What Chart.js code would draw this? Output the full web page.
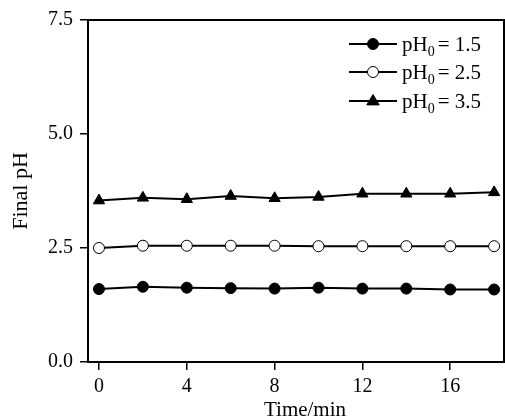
<!DOCTYPE html>
<html><head><meta charset="utf-8">
<script src="https://cdn.jsdelivr.net/npm/chart.js@4/dist/chart.umd.min.js"></script>
<style>html,body{margin:0;padding:0;background:#fff}#wrap{width:505px;height:419px}</style>
</head><body><div id="wrap"><canvas id="c" width="505" height="419"></canvas></div>
<script>
const times = [0, 2, 4, 6, 8, 10, 12, 14, 16, 18];
const ph15 = [1.60, 1.65, 1.63, 1.62, 1.61, 1.63, 1.61, 1.61, 1.59, 1.59];
const ph25 = [2.50, 2.55, 2.55, 2.55, 2.55, 2.54, 2.54, 2.54, 2.54, 2.54];
const ph35 = [3.54, 3.60, 3.57, 3.64, 3.59, 3.62, 3.69, 3.69, 3.69, 3.72];
const xTicks = [0, 4, 8, 12, 16];
const yTicks = [0, 2.5, 5.0, 7.5];
const seriesNames = ['1.5', '2.5', '3.5'];
const xTitle = 'Time/min';
const yTitle = 'Final pH';

const FONT = 'Liberation Serif, Times New Roman, serif';
const toPts = arr => arr.map((v, i) => ({x: times[i], y: v}));
const styles = [
  {pointStyle: 'circle', bg: '#000', r: 5.5},
  {pointStyle: 'circle', bg: '#fff', r: 5.5},
  {pointStyle: 'triangle', bg: '#000', r: 6.5}
];
const dataSets = [ph15, ph25, ph35];

const framePlugin = {
  id: 'frame',
  afterDatasetsDraw(chart) {
    const {ctx, chartArea: a} = chart;
    ctx.save();
    ctx.strokeStyle = '#000';
    ctx.lineWidth = 2;
    ctx.strokeRect(a.left, a.top, a.right - a.left, a.bottom - a.top);
    ctx.restore();
  },
  afterDraw(chart) {
    const ctx = chart.ctx;
    const a = chart.chartArea;
    ctx.save();
    // axis titles
    ctx.fillStyle = '#000';
    ctx.font = '21px ' + FONT;
    ctx.textAlign = 'center';
    ctx.textBaseline = 'alphabetic';
    ctx.fillText(xTitle, 305, 416);
    ctx.save();
    ctx.translate(27, (a.top + a.bottom) / 2);
    ctx.rotate(-Math.PI / 2);
    ctx.font = '22px ' + FONT;
    ctx.fillText(yTitle, 0, 0);
    ctx.restore();
    // legend
    ctx.textAlign = 'left';
    const lx0 = 349, lx1 = 397, mx = 373, tx = 402;
    const rows = [44, 72, 101];
    rows.forEach((y, i) => {
      const s = styles[i];
      ctx.strokeStyle = '#000';
      ctx.lineWidth = 2;
      ctx.beginPath(); ctx.moveTo(lx0, y); ctx.lineTo(lx1, y); ctx.stroke();
      ctx.fillStyle = s.bg;
      ctx.lineWidth = 1;
      ctx.beginPath();
      if (s.pointStyle === 'circle') {
        ctx.arc(mx, y, s.r, 0, Math.PI * 2);
      } else {
        const r = s.r;
        ctx.moveTo(mx, y - r);
        ctx.lineTo(mx + r * 0.95, y + r * 0.6);
        ctx.lineTo(mx - r * 0.95, y + r * 0.6);
        ctx.closePath();
      }
      ctx.fill(); ctx.stroke();
      ctx.fillStyle = '#000';
      ctx.font = '21px ' + FONT;
      let x = tx;
      const base = y + 7;
      ctx.fillText('pH', x, base);
      x += ctx.measureText('pH').width;
      ctx.font = '14px ' + FONT;
      ctx.fillText('0', x, base + 5);
      x += ctx.measureText('0').width + 3;
      ctx.font = '21px ' + FONT;
      ctx.fillText('= ' + seriesNames[i], x, base);
    });
    ctx.restore();
  }
};

new Chart(document.getElementById('c'), {
  type: 'line',
  data: {
    datasets: dataSets.map((d, i) => ({
      data: toPts(d),
      borderColor: '#000',
      borderWidth: 2,
      pointStyle: styles[i].pointStyle,
      pointRadius: styles[i].r,
      pointBackgroundColor: styles[i].bg,
      pointBorderColor: '#000',
      pointBorderWidth: 1,
      tension: 0,
      fill: false
    }))
  },
  options: {
    responsive: false,
    animation: false,
    events: [],
    layout: {autoPadding: false, padding: {top: 20, right: 1, left: 0, bottom: 0}},
    plugins: {legend: {display: false}, tooltip: {enabled: false}},
    scales: {
      x: {
        type: 'linear',
        min: -0.5, max: 18.45,
        afterBuildTicks: ax => { ax.ticks = xTicks.map(v => ({value: v})); },
        afterFit: ax => { ax.height = 57; ax.paddingLeft = 0; ax.paddingRight = 0; },
        ticks: {color: '#000', font: {family: FONT, size: 20}, padding: 5, maxRotation: 0,
          callback: v => String(v)},
        grid: {drawOnChartArea: false, drawTicks: true, tickLength: 8, color: '#000', lineWidth: 1.5},
        border: {display: true, color: '#000', width: 2},
        title: {display: false}
      },
      y: {
        type: 'linear',
        min: 0, max: 7.5,
        afterBuildTicks: ax => { ax.ticks = yTicks.map(v => ({value: v})); },
        afterFit: ax => { ax.width = 88; },
        ticks: {color: '#000', font: {family: FONT, size: 20}, padding: 7,
          callback: v => Number(v).toFixed(1)},
        grid: {drawOnChartArea: false, drawTicks: true, tickLength: 8, color: '#000', lineWidth: 1.5},
        border: {display: true, color: '#000', width: 2},
        title: {display: false}
      }
    }
  },
  plugins: [framePlugin]
});
</script></body></html>
